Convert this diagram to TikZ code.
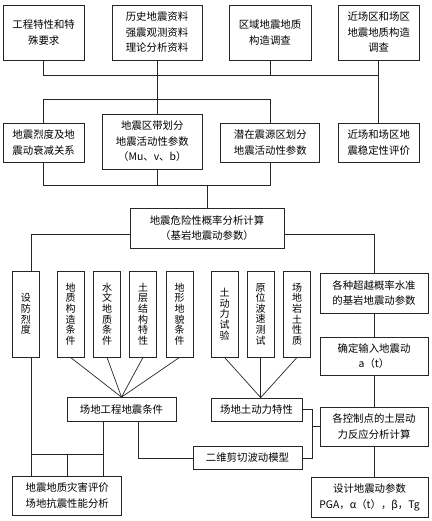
\documentclass[tikz,border=0pt]{standalone}
\usepackage{fontspec}
\newfontfamily\cjk{Noto Sans CJK SC}
\usepackage{tikz}
\colorlet{boxline}{black!85}

\begin{document}
\begin{tikzpicture}[x=1pt, y=-1pt,
    box/.style={draw=boxline, line width=0.8pt, inner sep=0pt, align=center,
      font=\cjk\fontsize{10.4}{15.5}\selectfont},
    vbox/.style={box, minimum width=27pt, minimum height=86pt,
      font=\cjk\fontsize{10}{10.6}\selectfont},
    link/.style={draw=boxline, line width=0.7pt}]
    \useasboundingbox (0,0) rectangle (431,521);

    \node[box, minimum width=81pt, minimum height=55pt] (eng) at (43.7,32.5) {工程特性和特\\殊要求};
    \node[box, minimum width=90pt, minimum height=55pt] (hist) at (157,32.5) {历史地震资料\\强震观测资料\\理论分析资料};
    \node[box, minimum width=82pt, minimum height=55pt] (region) at (270,32.5) {区域地震地质\\构造调查};
    \node[box, minimum width=81pt, minimum height=55pt] (near) at (378.7,32.5) {近场区和场区\\地震地质构造\\调查};

    \node[box, minimum width=81pt, minimum height=39pt] (atten) at (43.7,142.5) {地震烈度及地\\震动衰减关系};
    \node[box, minimum width=100pt, minimum height=55pt] (zone) at (152.3,141.5) {地震区带划分\\地震活动性参数\\（Mu、v、b）};
    \node[box, minimum width=99pt, minimum height=39pt] (source) at (270.3,142.5) {潜在震源区划分\\地震活动性参数};
    \node[box, minimum width=81pt, minimum height=39pt] (stab) at (378.7,142.5) {近场和场区地\\震稳定性评价};

    \node[box, minimum width=154pt, minimum height=40pt] (hazard) at (207,228) {地震危险性概率分析计算\\（基岩地震动参数）};

    \node[vbox] (fort) at (25.8,314) {设\\防\\烈\\度};
    \node[vbox] (geo) at (70.5,314) {地\\质\\构\\造\\条\\件};
    \node[vbox] (hydro) at (107,314) {水\\文\\地\\质\\条\\件};
    \node[vbox] (soil) at (143,314) {土\\层\\结\\构\\特\\性};
    \node[vbox] (terrain) at (179.5,314) {地\\形\\地\\貌\\条\\件};
    \node[vbox] (dyn) at (224.5,314) {土\\动\\力\\试\\验};
    \node[vbox] (wave) at (260.7,314) {原\\位\\波\\速\\测\\试};
    \node[vbox] (rock) at (297,314) {场\\地\\岩\\土\\性\\质};

    \node[box, minimum width=108pt, minimum height=40pt] (exceed) at (374,293) {各种超越概率水准\\的基岩地震动参数};
    \node[box, minimum width=108pt, minimum height=38pt] (input) at (374,356) {确定输入地震动\\a（t）};

    \node[box, minimum width=109pt, minimum height=24pt] (site) at (121.5,409.5) {场地工程地震条件};
    \node[box, minimum width=91pt, minimum height=23pt] (soildyn) at (256.5,409.5) {场地土动力特性};
    \node[box, minimum width=108pt, minimum height=39pt] (resp) at (374,426.5) {各控制点的土层动\\力反应分析计算};
    \node[box, minimum width=109pt, minimum height=23pt] (shear) at (247.5,458) {二维剪切波动模型};

    \node[box, minimum width=109pt, minimum height=39pt] (disaster) at (67.2,495.5) {地震地质灾害评价\\场地抗震性能分析};
    \node[box, minimum width=117pt, minimum height=40pt] (design) at (369.5,497.5) {设计地震动参数\\PGA，α（t），β，Tg};

    \coordinate (bus1) at (0,75);
    \coordinate (bus2) at (0,99);
    \coordinate (bus3) at (0,185);
    \coordinate (bus4) at (0,234);
    \coordinate (bus5) at (0,454);
    \coordinate (jline) at (31,0);
    \coordinate (brk) at (312,0);
    \coordinate (mleft) at (103,0);
    \coordinate (mright) at (138,0);

    \draw[link] (eng.south) |- (bus1 -| near.south);
    \draw[link] (region.south) -- (region.south |- bus1);
    \draw[link] (near.south) -- (stab.north);
    \draw[link] (hist.south) -- (hist.south |- zone.north);
    \draw[link] (atten.north) |- (bus2 -| source.north) -- (source.north);
    \draw[link] (atten.south) |- (bus3 -| source.south) -- (source.south);
    \draw[link] (zone.south -| hist.south) -- (bus3 -| hist.south);
    \draw[link] (hazard.north) -- (hazard.north |- bus3);
    \draw[link] (hazard.west |- bus4) -| (jline |- fort.north);
    \draw[link] (hazard.east |- bus4) -| (exceed.north);
    \draw[link] (exceed) -- (input);
    \draw[link] (input) -- (resp);
    \draw[link] (resp.south) -- (resp.south |- design.north);
    \foreach \v in {geo, hydro, soil, terrain}
      \draw[link] (\v.south) -- (site.north);
    \foreach \v in {dyn, wave, rock}
      \draw[link] (\v.south) -- (wave.south |- soildyn.north);
    \draw[link] (soildyn.east) -| (brk |- shear.east) -- (shear.east);
    \draw[link] (brk |- resp.west) -- (resp.west);
    \draw[link] (mright |- site.south) |- (shear.west);
    \draw[link] (mleft |- site.south) -- (mleft |- disaster.north);
    \draw[link] (jline |- fort.south) -- (jline |- disaster.north);
    \draw[link] (jline |- bus5) -- (mleft |- bus5);
    \draw[link] (disaster.north) -- (disaster.north |- bus5);
\end{tikzpicture}
\end{document}
